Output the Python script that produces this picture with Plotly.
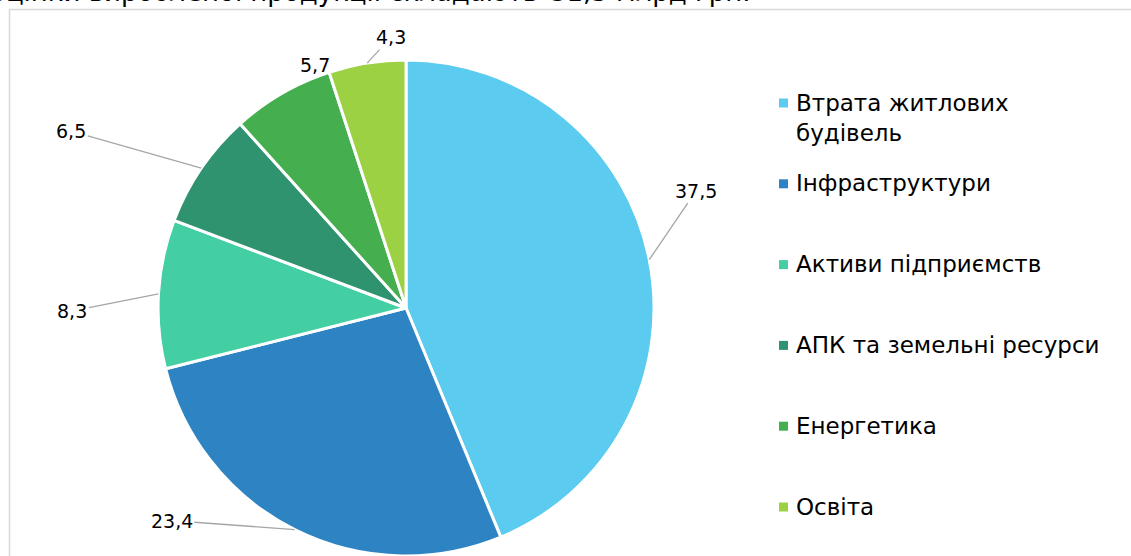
import math
import plotly.graph_objects as go

# ---- data ----
categories = ["Втрата житлових будівель", "Інфраструктури", "Активи підприємств",
              "АПК та земельні ресурси", "Енергетика", "Освіта"]
legend_labels = ["Втрата житлових<br>будівель", "Інфраструктури", "Активи підприємств",
                 "АПК та земельні ресурси", "Енергетика", "Освіта"]
values = [37.5, 23.4, 8.3, 6.5, 5.7, 4.3]
colors = ["#5BCBEF", "#2E83C3", "#43CFA3", "#2E936E", "#45AF50", "#9BD143"]
title_text = "оцінки виробленої продукції складають ₴1,3 млрд грн."

# ---- layout constants ----
W, H = 1131, 556
FONT = "DejaVu Sans"
dom_x = [0.138, 0.580]
dom_y = [0.0, 0.892]
# label offsets (pixels, text centre relative to slice edge point) and leader-line flags
label_offsets = [(47, -69), (-123, -9), (-86, 17), (-130, -37), (33, -28), (24, -26)]
leader = [True, True, True, True, False, True]

fig = go.Figure(go.Pie(
    labels=categories, values=values, sort=False, direction="clockwise", rotation=0,
    marker=dict(colors=colors, line=dict(color="white", width=3)),
    textinfo="none", hoverinfo="label+value", showlegend=False,
    domain=dict(x=dom_x, y=dom_y),
))

# pie geometry derived from the domain
cx = (dom_x[0] + dom_x[1]) / 2 * W
cy = H * (1 - (dom_y[0] + dom_y[1]) / 2)
R = min((dom_x[1] - dom_x[0]) * W, (dom_y[1] - dom_y[0]) * H) / 2
total = sum(values)

annotations = []
cum = 0.0
for v, (ox, oy), ld in zip(values, label_offsets, leader):
    mid = (cum + v / 2) / total * 2 * math.pi
    cum += v
    px = cx + R * math.sin(mid)
    py = cy - R * math.cos(mid)
    txt = f"{v:.1f}".replace(".", ",")
    if ld:
        annotations.append(dict(
            x=px / W, y=1 - py / H, xref="paper", yref="paper", text=txt,
            showarrow=True, ax=ox, ay=oy, arrowhead=0, arrowwidth=1.3,
            arrowcolor="#A6A6A6", standoff=0,
            font=dict(family=FONT, size=19, color="#000000")))
    else:
        annotations.append(dict(
            x=px / W, y=1 - py / H, xref="paper", yref="paper", text=txt,
            xanchor="center", yanchor="middle",
            showarrow=False, xshift=ox, yshift=-oy,
            font=dict(family=FONT, size=19, color="#000000")))

# manual legend
shapes = []
leg_y0, leg_step = 103, 80.8
for i, (lab, col) in enumerate(zip(legend_labels, colors)):
    yc = leg_y0 + i * leg_step
    shapes.append(dict(type="rect", xref="paper", yref="paper",
                       x0=779 / W, x1=788 / W, y0=1 - (yc + 4.5) / H, y1=1 - (yc - 4.5) / H,
                       fillcolor=col, line=dict(width=0)))
    annotations.append(dict(
        x=794 / W, y=1 - (yc - 15.5) / H, xref="paper", yref="paper",
        xanchor="left", yanchor="top", align="left", text=lab, showarrow=False,
        font=dict(family=FONT, size=23, color="#000000")))

# cut-off heading at the top
annotations.append(dict(
    x=752 / W, y=1 - 9 / H, xref="paper", yref="paper", xanchor="right", yanchor="bottom",
    text=title_text, showarrow=False, font=dict(family=FONT, size=26, color="#000000")))

# chart border
shapes.append(dict(type="rect", xref="paper", yref="paper", x0=9.5 / W, x1=1.05,
                   y0=-0.05, y1=1 - 9.5 / H, line=dict(color="#D9D9D9", width=1.5),
                   fillcolor="rgba(0,0,0,0)", layer="below"))

fig.update_layout(
    width=W, height=H, margin=dict(l=0, r=0, t=0, b=0),
    paper_bgcolor="white", plot_bgcolor="white",
    annotations=annotations, shapes=shapes, showlegend=False,
)

fig.write_html("out.html", config={"displayModeBar": False},
               post_script="document.body.style.margin='0';")
